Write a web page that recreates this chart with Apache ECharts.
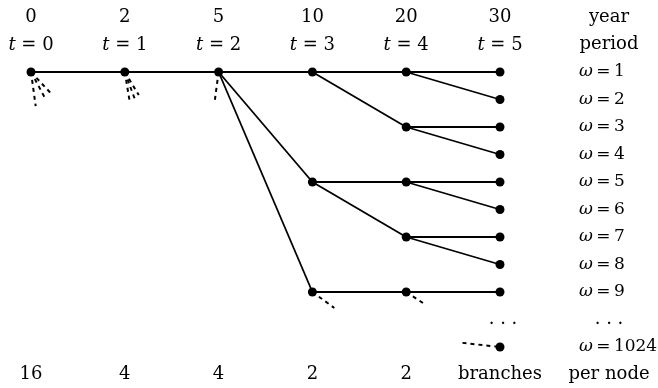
<!DOCTYPE html>
<html><head><meta charset="utf-8">
<script src="https://cdn.jsdelivr.net/npm/echarts@6/dist/echarts.min.js"></script>
<style>html,body{margin:0;padding:0;background:#fff}#c{width:658px;height:388px}</style>
</head><body><div id="c"></div>
<script>
// ---- data ----
const periods = [0, 1, 2, 3, 4, 5];
const years = ['0', '2', '5', '10', '20', '30'];
const branchesPerNode = ['16', '4', '4', '2', '2', 'branches'];
const scenarioRows = [1, 2, 3, 4, 5, 6, 7, 8, 9, 11];
const scenarioNames = ['1', '2', '3', '4', '5', '6', '7', '8', '9', '1024'];
const headerRows = [-1, 0, 12];
const headerTexts = ['year', 'period', 'per node'];
const ellipsisRows = [10];
// nodes: [period, row]
const nodes = [[0,1],[1,1],[2,1],[3,1],[3,5],[3,9],[4,1],[4,3],[4,5],[4,7],[4,9],
  [5,1],[5,2],[5,3],[5,4],[5,5],[5,6],[5,7],[5,8],[5,9],[5,11]];
// edges: [period, fromRow, toRow] -> from (t, fromRow) to (t+1, toRow)
const edges = [[0,1,1],[1,1,1],[2,1,1],[2,1,5],[2,1,9],[3,1,1],[3,1,3],[3,5,5],[3,5,7],[3,9,9],
  [4,1,1],[4,1,2],[4,3,3],[4,3,4],[4,5,5],[4,5,6],[4,7,7],[4,7,8],[4,9,9]];
// dashed stubs hinting at omitted branches: [x1, y1, x2, y2]
const stubs = [[0,1,0.05,2.24],[0,1,0.15,1.95],[0,1,0.23,1.84],
  [1,1,1.053,2.09],[1,1,1.106,1.98],[1,1,1.149,1.84],
  [2,1,1.96,2.02],[3,9,3.234,9.58],[4,9,4.21,9.47],[4.6,10.85,5,11]];

// ---- chart ----
const FONT = 'DejaVu Serif';
const base = {fontFamily: FONT, fontSize: 18, color: '#000'};
const rich = {i: {fontFamily: FONT, fontSize: 18, fontStyle: 'italic', color: '#000'}};
const richW = {i: {fontFamily: FONT, fontSize: 17, fontStyle: 'italic', color: '#000'}};
const richD = {d: {fontFamily: FONT, fontSize: 18, color: '#000', padding: [10, 0, 0, 0]}};
const hidden = {axisLine: {show: false}, axisTick: {show: false}, splitLine: {show: false}};
const xCommon = Object.assign({type: 'value', min: 0, max: 5, interval: 1}, hidden);
const yCommon = Object.assign({type: 'value', min: -1, max: 12, interval: 1, inverse: true}, hidden);
const TS = '\u2009';

const chart = echarts.init(document.getElementById('c'), null, {renderer: 'canvas'});
chart.setOption({
  animation: false,
  backgroundColor: '#fff',
  grid: {left: 31, right: 158, top: 17, bottom: 388 - 374.5, outerBoundsMode: 'none', containLabel: false},
  xAxis: [
    Object.assign({}, xCommon, {position: 'top', axisLabel: Object.assign({}, base, {margin: 0, verticalAlign: 'middle',
      formatter: v => { const i = periods.indexOf(v); return i < 0 ? '' : years[i]; }})}),
    Object.assign({}, xCommon, {position: 'top', offset: -28, axisLabel: Object.assign({}, base, {margin: 0, verticalAlign: 'middle', rich,
      formatter: v => periods.indexOf(v) < 0 ? '' : '{i|t} = ' + v})}),
    Object.assign({}, xCommon, {position: 'bottom', axisLabel: Object.assign({}, base, {margin: 0, verticalAlign: 'middle',
      formatter: v => { const i = periods.indexOf(v); return i < 0 ? '' : branchesPerNode[i]; }})})
  ],
  yAxis: [
    Object.assign({}, yCommon, {position: 'right', offset: 79, axisLabel: Object.assign({}, base, {fontSize: 17, margin: 0, align: 'left', rich: richW,
      formatter: v => { const i = scenarioRows.indexOf(v); return i < 0 ? '' : '{i|ω}' + TS + '=' + TS + scenarioNames[i]; }})}),
    Object.assign({}, yCommon, {position: 'right', offset: 109, axisLabel: Object.assign({}, base, {margin: 0, align: 'center', rich: richD,
      formatter: v => { const i = headerRows.indexOf(v); if (i >= 0) return headerTexts[i]; return ellipsisRows.indexOf(v) < 0 ? '' : '{d|· · ·}'; }})}),
    Object.assign({}, yCommon, {position: 'right', offset: 3, axisLabel: Object.assign({}, base, {margin: 0, align: 'center', rich: richD,
      formatter: v => ellipsisRows.indexOf(v) < 0 ? '' : '{d|· · ·}'})})
  ],
  series: [
    {type: 'lines', coordinateSystem: 'cartesian2d', xAxisIndex: 0, yAxisIndex: 0, silent: true,
      lineStyle: {color: '#000', width: 1.8, opacity: 1},
      data: edges.map(e => ({coords: [[e[0], e[1]], [e[0] + 1, e[2]]]}))},
    {type: 'lines', coordinateSystem: 'cartesian2d', xAxisIndex: 0, yAxisIndex: 0, silent: true,
      lineStyle: {color: '#000', width: 2, opacity: 1, type: [4, 4]},
      data: stubs.map(s => ({coords: [[s[0], s[1]], [s[2], s[3]]]}))},
    {type: 'scatter', xAxisIndex: 0, yAxisIndex: 0, symbol: 'circle', symbolSize: 9, silent: true,
      itemStyle: {color: '#000', opacity: 1}, data: nodes}
  ]
});
</script></body></html>
